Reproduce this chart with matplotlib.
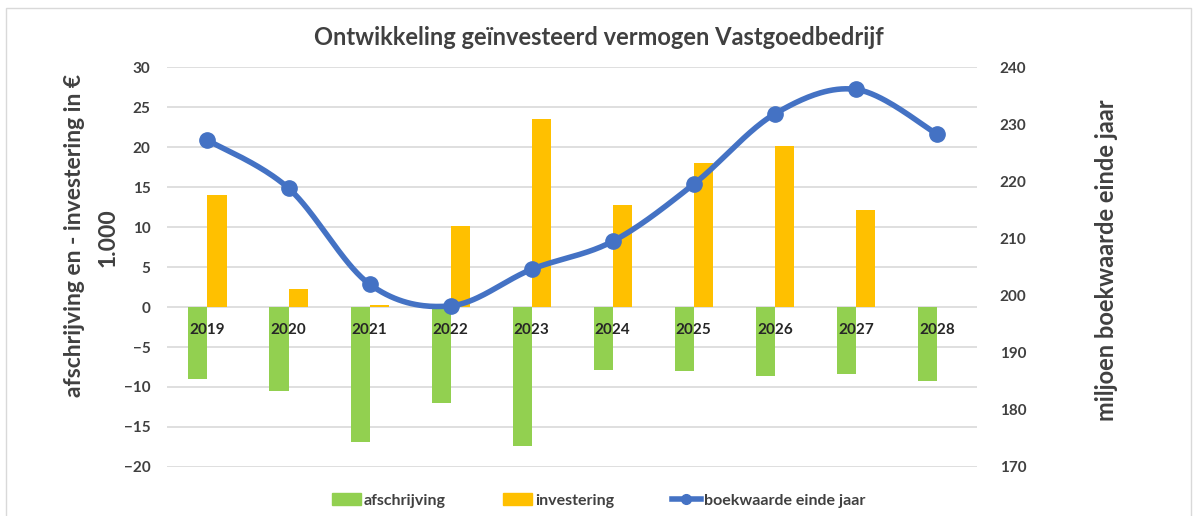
import numpy as np
import matplotlib.pyplot as plt
from matplotlib.lines import Line2D
from matplotlib.patches import Patch, Rectangle

jaren = ["2019", "2020", "2021", "2022", "2023", "2024", "2025", "2026", "2027", "2028"]
afschrijving = [-9.0, -10.5, -16.9, -12.0, -17.4, -7.9, -8.0, -8.6, -8.4, -9.3]
investering = [14.0, 2.2, 0.2, 10.1, 23.5, 12.8, 18.0, 20.1, 12.1, 0.0]
boekwaarde = [227.2, 218.8, 202.0, 198.2, 204.6, 209.5, 219.5, 231.8, 236.1, 228.3]

groen = "#92d050"
oranje = "#ffc000"
blauw = "#4472c4"
tekst = "#404040"

plt.rcParams['font.family'] = ['Lato', 'DejaVu Sans']

fig = plt.figure(figsize=(11.97, 5.16), dpi=100)
ax = fig.add_axes([0.1395, 0.095, 0.677, 0.775])
ax2 = ax.twinx()

x = np.arange(len(jaren))
w = 0.235
ax.bar(x - w / 2, afschrijving, w, color=groen, zorder=2)
ax.bar(x + w / 2, investering, w, color=oranje, zorder=2)

# smooth line like Excel (Catmull-Rom through the points)
xs, ys = [], []
px = np.array(x, dtype=float)
py = np.array(boekwaarde)
n = len(px)
for i in range(n - 1):
    p0 = (px[max(i - 1, 0)], py[max(i - 1, 0)])
    p1 = (px[i], py[i])
    p2 = (px[i + 1], py[i + 1])
    p3 = (px[min(i + 2, n - 1)], py[min(i + 2, n - 1)])
    c1 = (p1[0] + (p2[0] - p0[0]) / 6, p1[1] + (p2[1] - p0[1]) / 6)
    c2 = (p2[0] - (p3[0] - p1[0]) / 6, p2[1] - (p3[1] - p1[1]) / 6)
    t = np.linspace(0, 1, 40)
    bx = (1-t)**3*p1[0] + 3*(1-t)**2*t*c1[0] + 3*(1-t)*t**2*c2[0] + t**3*p2[0]
    by = (1-t)**3*p1[1] + 3*(1-t)**2*t*c1[1] + 3*(1-t)*t**2*c2[1] + t**3*p2[1]
    xs.extend(bx)
    ys.extend(by)
ax2.plot(xs, ys, color=blauw, lw=4, solid_capstyle='round', zorder=3)
ax2.plot(px, py, 'o', color=blauw, ms=11, zorder=4)

ax.set_xlim(-0.5, len(jaren) - 0.5)
ax.set_ylim(-20, 30)
ax.set_yticks(range(-20, 31, 5))
ax2.set_ylim(170, 240)
ax2.set_yticks(range(170, 241, 10))

ax.grid(axis='y', color='#d9d9d9', lw=1.2, zorder=0)
ax.set_axisbelow(True)
for a in (ax, ax2):
    for s in a.spines.values():
        s.set_visible(False)
    a.tick_params(length=0, labelsize=11, labelcolor=tekst)
    for lab in a.get_yticklabels():
        lab.set_fontweight('bold')
ax.tick_params(axis='y', pad=12)
ax2.tick_params(axis='y', pad=16)
ax.set_xticks([])

for xi, j in zip(x, jaren):
    ax.text(xi, -2.0, j, ha='center', va='top', fontsize=11, fontweight='bold',
            color='#262626', zorder=5)

fig.text(0.0625, 0.543, "afschrijving en - investering in €", rotation=90,
         ha='center', va='center', fontsize=16.5, color=tekst, fontweight='bold')
fig.text(0.09, 0.54, "1.000", rotation=90, ha='center', va='center',
         fontsize=16.5, color=tekst, fontweight='bold')
fig.text(0.924, 0.496, "miljoen boekwaarde einde jaar", rotation=90,
         ha='center', va='center', fontsize=17, color=tekst, fontweight='bold')

fig.text(0.5, 0.928, "Ontwikkeling geïnvesteerd vermogen Vastgoedbedrijf",
         ha='center', va='center', fontsize=17, fontweight='bold', color=tekst)

handles = [Patch(color=groen), Patch(color=oranje),
           Line2D([0], [0], color=blauw, lw=4, marker='o', ms=7)]
fig.legend(handles, ["afschrijving", "investering", "boekwaarde einde jaar"],
           loc='center', bbox_to_anchor=(0.5, 0.03), ncol=3, frameon=False,
           handlelength=1.8, columnspacing=3.6, handletextpad=0.2,
           prop={'weight': 'bold', 'size': 11.5})
for t in fig.legends[0].get_texts():
    t.set_color(tekst)

fig.add_artist(Rectangle((0.005, -0.01), 0.99, 0.995, transform=fig.transFigure,
                         fill=False, ec='#d9d9d9', lw=1))

fig.savefig("out.png", dpi=100)
